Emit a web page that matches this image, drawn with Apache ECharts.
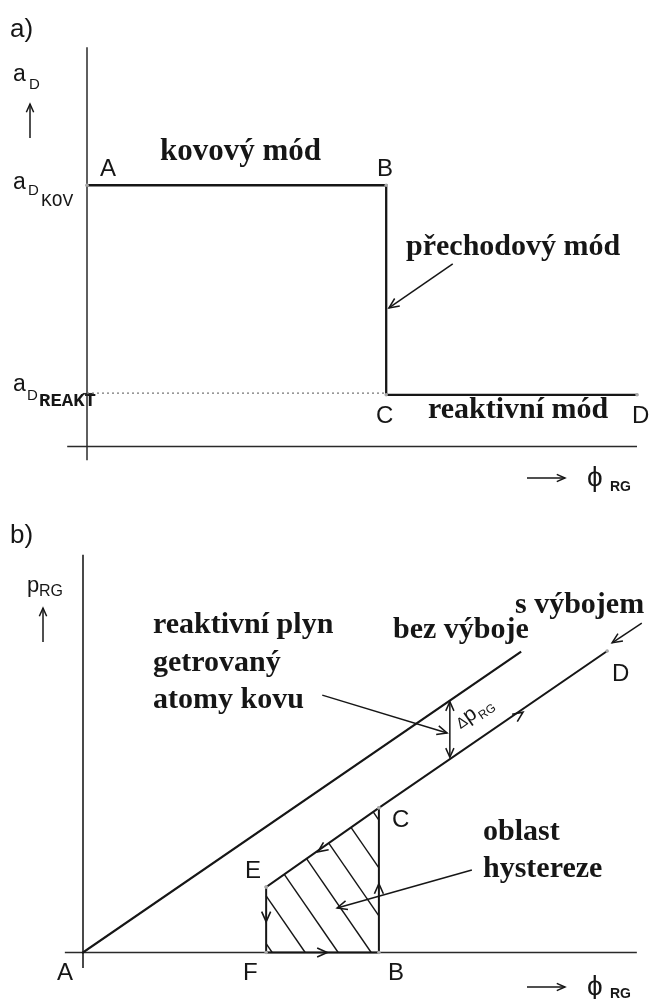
<!DOCTYPE html>
<html>
<head>
<meta charset="utf-8">
<script src="https://cdn.jsdelivr.net/npm/echarts@6/dist/echarts.min.js"></script>
<style>
  html, body { margin: 0; padding: 0; background: #fff; }
  #chart { width: 653px; height: 999px; }
</style>
</head>
<body>
<div id="chart"></div>
<script>
// ---------- a) deposition rate a_D against reactive gas flow ϕ_RG ----------
const phiModes = [0, 5.44, 5.44, 10.0];      // A, B, C, D
const rateModes = [4.75, 4.75, 0.94, 0.94];
const rateMetal = 4.75;                      // a_D KOV
const rateReactive = 0.94;                   // a_D REAKT

// ---------- b) partial pressure p_RG against ϕ_RG ----------
const phiNoDischarge = [0, 7.95];            // "bez výboje"
const pNoDischarge = [0, 5.46];
const phiDischarge = [3.33, 5.38, 9.53];     // E, C, D  ("s výbojem")
const pDischarge = [1.19, 2.63, 5.48];
const phiLoop = [3.33, 3.33, 5.38, 5.38];    // E, F, B, C
const pLoop = [1.19, 0, 0, 2.63];
const phiDeltaP = 6.67;                      // where Δp_RG is marked
const pDeltaP = [3.55, 4.56];
// hatching of the hysteresis region: ϕ where each hatch line meets p = 0
const hatchIntercepts = [3.44, 4.04, 4.64, 5.24, 5.84, 6.44, 7.04];
const hatchSlope = 1.45;

// flow direction marks along the hysteresis loop: [ϕ, p, dϕ, dp]
const flowMarks = [
  [4.27, 1.83, -1, -0.7],
  [3.33, 0.56, 0, -1],
  [4.44, 0.00, 1, 0],
  [5.38, 1.25, 0, 1],
  [8.00, 4.37, 1, 0.69]
];

const INK = '#161616';
const SANS = '"Liberation Sans", Arial, sans-serif';
const SERIF = '"Liberation Serif", "Times New Roman", serif';
const MONO = '"Liberation Mono", "Courier New", monospace';

const zip = (xs, ys) => xs.map((x, i) => [x, ys[i]]);

// clip a hatch line p = -k(ϕ - ϕ0) against a convex polygon
function clipHatch(poly, x0, k) {
  const pts = [];
  for (let i = 0; i < poly.length; i++) {
    const [ax, ay] = poly[i];
    const [bx, by] = poly[(i + 1) % poly.length];
    const fa = ay + k * (ax - x0), fb = by + k * (bx - x0);
    if ((fa <= 0 && fb >= 0) || (fa >= 0 && fb <= 0)) {
      if (fa === fb) continue;
      const t = fa / (fa - fb);
      pts.push([ax + t * (bx - ax), ay + t * (by - ay)]);
    }
  }
  if (pts.length < 2) return null;
  pts.sort((p, q) => p[0] - q[0]);
  const a = pts[0], b = pts[pts.length - 1];
  if (Math.hypot(a[0] - b[0], a[1] - b[1]) < 1e-3) return null;
  return [a[0], a[1], b[0], b[1], 0];
}
const loopPoly = zip(phiLoop, pLoop);
const hatchSegments = hatchIntercepts.map(x0 => clipHatch(loopPoly, x0, hatchSlope)).filter(Boolean);

function chevron(tip, ang, len, color, width) {
  const s = 0.42;
  return {
    type: 'polyline',
    shape: { points: [
      [tip[0] - len * Math.cos(ang - s), tip[1] - len * Math.sin(ang - s)],
      [tip[0], tip[1]],
      [tip[0] - len * Math.cos(ang + s), tip[1] - len * Math.sin(ang + s)]
    ] },
    style: { stroke: color, lineWidth: width, fill: 'none' }
  };
}

// segments: [ϕ1, p1, ϕ2, p2, heads]  heads: 0 none, 1 at end, 2 both ends
function segmentSeries(xi, data, color, width, head) {
  return {
    type: 'custom', xAxisIndex: xi, yAxisIndex: xi, clip: false, silent: true,
    data: data,
    renderItem: function (params, api) {
      const p1 = api.coord([api.value(0), api.value(1)]);
      const p2 = api.coord([api.value(2), api.value(3)]);
      const h = api.value(4);
      const children = [{
        type: 'line',
        shape: { x1: p1[0], y1: p1[1], x2: p2[0], y2: p2[1] },
        style: { stroke: color, lineWidth: width }
      }];
      const ang = Math.atan2(p2[1] - p1[1], p2[0] - p1[0]);
      if (h >= 1) children.push(chevron(p2, ang, head, color, width));
      if (h >= 2) children.push(chevron(p1, ang + Math.PI, head, color, width));
      return { type: 'group', children: children };
    }
  };
}

function pathSeries(xi, data, width, withSymbols) {
  return {
    type: 'line', xAxisIndex: xi, yAxisIndex: xi, data: data,
    showSymbol: !!withSymbols, symbol: 'circle', symbolSize: 3.5,
    itemStyle: { color: '#a9a9a9' },
    lineStyle: { color: INK, width: width, join: 'miter', cap: 'square' },
    silent: true, animation: false, z: 3
  };
}

function txt(text, x, baseline, size, family, weight, extra) {
  return Object.assign({
    type: 'text', x: x, y: baseline - 0.34 * size, silent: true,
    style: { text: text, fill: INK, font: (weight || 'normal') + ' ' + size + 'px ' + family,
             verticalAlign: 'middle', align: 'left' }
  }, extra || {});
}
function gline(x1, y1, x2, y2, w) {
  return { type: 'line', silent: true, shape: { x1, y1, x2, y2 }, style: { stroke: INK, lineWidth: w || 1.5 } };
}
function gchev(x, y, ang) {
  const c = chevron([x, y], ang, 9, INK, 1.5);
  c.silent = true;
  return c;
}

const option = {
  animation: false,
  backgroundColor: '#fff',
  grid: [
    { left: 32, top: 34, width: 616, height: 440 },
    { left: 28, top: 540, width: 616, height: 440 }
  ],
  xAxis: [
    { gridIndex: 0, type: 'value', min: -1, max: 10.2, show: false },
    { gridIndex: 1, type: 'value', min: -1, max: 10.2, show: false }
  ],
  yAxis: [
    { gridIndex: 0, type: 'value', min: -0.5, max: 7.5, show: false },
    { gridIndex: 1, type: 'value', min: -0.5, max: 7.5, show: false }
  ],
  series: [
    // panel a
    segmentSeries(0, [[-0.36, 0, 10.0, 0, 0], [0, -0.25, 0, 7.26, 0], [-0.08, rateReactive + 0.02, 0.12, rateReactive + 0.02, 0]], '#2a2a2a', 1.5, 0),
    {
      type: 'line', xAxisIndex: 0, yAxisIndex: 0, silent: true, showSymbol: false,
      data: [[0, rateReactive + 0.03], [phiModes[1], rateReactive + 0.03]],
      lineStyle: { color: '#777', width: 1.3, type: [2, 3] }, z: 2
    },
    pathSeries(0, zip(phiModes, rateModes), 2.3, true),
    segmentSeries(0, [[6.65, 3.32, 5.49, 2.52, 1]], INK, 1.5, 11),

    // panel b
    segmentSeries(1, [[-0.33, 0, 10.07, 0, 0], [0, -0.28, 0, 7.23, 0]], '#2a2a2a', 1.7, 0),
    pathSeries(1, zip(phiNoDischarge, pNoDischarge), 2.2, false),
    pathSeries(1, zip(phiDischarge, pDischarge), 2.0, true),
    pathSeries(1, zip(phiLoop, pLoop), 2.0, true),
    segmentSeries(1, hatchSegments, INK, 1.4, 0),
    {
      type: 'custom', xAxisIndex: 1, yAxisIndex: 1, clip: false, silent: true, z: 4,
      data: flowMarks,
      renderItem: function (params, api) {
        const x = api.value(0), y = api.value(1);
        const tip = api.coord([x, y]);
        const q = api.coord([x + api.value(2) * 0.1, y + api.value(3) * 0.1]);
        const ang = Math.atan2(q[1] - tip[1], q[0] - tip[0]);
        return chevron(tip, ang, 11, INK, 1.6);
      }
    },
    segmentSeries(1, [[phiDeltaP, pDeltaP[0], phiDeltaP, pDeltaP[1], 2]], INK, 1.5, 10),
    segmentSeries(1, [
      [4.35, 4.68, 6.62, 3.99, 1],
      [10.16, 5.99, 9.62, 5.63, 1],
      [7.07, 1.50, 4.62, 0.81, 1]
    ], INK, 1.5, 11)
  ],
  graphic: [
    // panel a labels
    txt('a)', 10, 39, 26, SANS),
    txt('a', 13, 82, 23, SANS), txt('D', 29, 90, 15, SANS),
    gline(30, 138, 30, 104), gchev(30, 104, -Math.PI / 2),
    txt('a', 13, 190, 23, SANS), txt('D', 28, 196, 15, SANS), txt('KOV', 41, 207, 18, MONO),
    txt('a', 13, 392, 23, SANS), txt('D', 27, 401, 15, SANS), txt('REAKT', 39, 408, 19, MONO, 'bold'),
    txt('A', 100, 178, 24, SANS), txt('B', 377, 178, 24, SANS),
    txt('C', 376, 425, 24, SANS), txt('D', 632, 425, 24, SANS),
    txt('kovový mód', 160, 163, 31, SERIF, 'bold'),
    txt('přechodový mód', 406, 257, 30, SERIF, 'bold'),
    txt('reaktivní mód', 428, 420, 30, SERIF, 'bold'),
    gline(527, 478, 565, 478), gchev(565, 478, 0),
    txt('\u03D5', 587, 488, 28, SANS), txt('RG', 610, 492, 14, SANS, 'bold'),

    // panel b labels
    txt('b)', 10, 545, 26, SANS),
    txt('p', 27, 593, 22, SANS), txt('RG', 39, 597, 16, SANS),
    gline(43, 642, 43, 608), gchev(43, 608, -Math.PI / 2),
    txt('A', 57, 982, 24, SANS), txt('F', 243, 982, 24, SANS), txt('B', 388, 982, 24, SANS),
    txt('E', 245, 880, 24, SANS), txt('C', 392, 829, 24, SANS), txt('D', 612, 683, 24, SANS),
    txt('reaktivní plyn', 153, 635, 30, SERIF, 'bold'),
    txt('getrovaný', 153, 673, 30, SERIF, 'bold'),
    txt('atomy kovu', 153, 710, 30, SERIF, 'bold'),
    txt('bez výboje', 393, 640, 30, SERIF, 'bold'),
    txt('s výbojem', 515, 615, 30, SERIF, 'bold'),
    txt('oblast', 483, 842, 30, SERIF, 'bold'),
    txt('hystereze', 483, 879, 30, SERIF, 'bold'),
    {
      type: 'group', x: 461, y: 730, rotation: Math.atan(0.687), silent: true,
      children: [
        txt('\u0394', 0, 0, 15, SANS),
        txt('p', 10, 0, 21, SANS),
        txt('RG', 23, 4, 12, SANS)
      ]
    },
    gline(527, 987, 565, 987), gchev(565, 987, 0),
    txt('\u03D5', 587, 997, 28, SANS), txt('RG', 610, 999, 14, SANS, 'bold')
  ]
};

const chart = echarts.init(document.getElementById('chart'));
chart.setOption(option);
</script>
</body>
</html>
